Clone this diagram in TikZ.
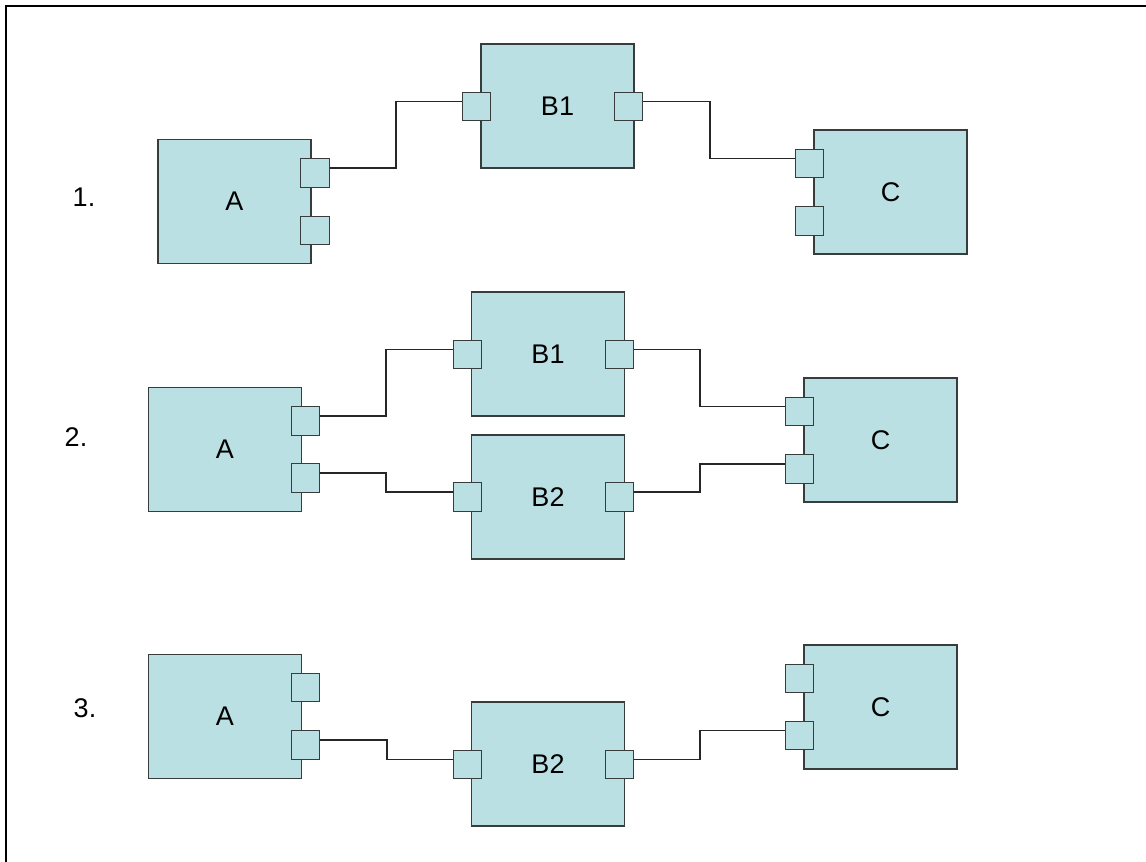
\documentclass[tikz,border=0pt]{standalone}
\usepackage{fontspec}
\setmainfont{Liberation Sans}
\usetikzlibrary{calc}
\definecolor{boxfill}{RGB}{187,224,227}
\definecolor{boxline}{RGB}{55,60,60}
\newcommand\wireconn[3]{%
  \path ([yshift=5pt]#1.east) coordinate (ws) ([yshift=5pt]#2.west) coordinate (we) (#3,0) coordinate (wm);
  \draw[wire] (ws) -- (ws -| wm) -- (wm |- we) -- (we);}
\begin{document}
\begin{tikzpicture}[x=1pt,y=-1pt,
  blk/.style={draw=boxline, fill=boxfill, line width=1.3pt, minimum width=153pt, minimum height=124pt, inner sep=0pt, font=\fontsize{27}{30}\selectfont},
  prt/.style={draw=boxline, fill=boxfill, line width=1.3pt, minimum width=28.5pt, minimum height=28.5pt, inner sep=0pt},
  wire/.style={draw=black!85, line width=1.2pt},
  num/.style={font=\fontsize{27}{30}\selectfont, inner sep=0pt}]
\useasboundingbox (0,0) rectangle (1146,862);
\begin{scope}
  \clip (0,0) rectangle (1146,862);
  \draw[line width=2.2pt] (6,6) rectangle (1170,890);
\end{scope}
% ---------- 1 ----------
\node[num] (n1) at (84,197) {1.};
\node[blk] (A1) at (234.5,201.5) {A};
\node[prt] (A1a) at (315,173) {};
\node[prt] (A1b) at (315,230.5) {};
\node[blk] (B1) at (557.5,106) {B1};
\node[prt] (B1a) at (476.5,106.5) {};
\node[prt] (B1b) at (628.5,106.5) {};
\node[blk] (C1) at (890.5,192) {C};
\node[prt] (C1a) at (809.5,163.5) {};
\node[prt] (C1b) at (809.5,221) {};
\wireconn{A1a}{B1a}{396}
\wireconn{B1b}{C1a}{710}
% ---------- 2 ----------
\node[num] (n2) at (76,437) {2.};
\node[blk] (A2) at (225,449.5) {A};
\node[prt] (A2a) at (305.5,421) {};
\node[prt] (A2b) at (305.5,478) {};
\node[blk] (B21) at (548,354) {B1};
\node[prt] (B21a) at (467.5,354.5) {};
\node[prt] (B21b) at (619.5,354.5) {};
\node[blk] (B22) at (548,497) {B2};
\node[prt] (B22a) at (467.5,497) {};
\node[prt] (B22b) at (619.5,497) {};
\node[blk] (C2) at (880.5,440) {C};
\node[prt] (C2a) at (799.5,411.5) {};
\node[prt] (C2b) at (799.5,469) {};
\wireconn{A2a}{B21a}{386}
\wireconn{A2b}{B22a}{386}
\wireconn{B21b}{C2a}{700}
\wireconn{B22b}{C2b}{700}
% ---------- 3 ----------
\node[num] (n3) at (85,708) {3.};
\node[blk] (A3) at (225,716.5) {A};
\node[prt] (A3a) at (305.5,687.5) {};
\node[prt] (A3b) at (305.5,745) {};
\node[blk] (B3) at (548,764) {B2};
\node[prt] (B3a) at (467.5,764.5) {};
\node[prt] (B3b) at (619.5,764.5) {};
\node[blk] (C3) at (880.5,707) {C};
\node[prt] (C3a) at (799.5,678.5) {};
\node[prt] (C3b) at (799.5,735.5) {};
\wireconn{A3b}{B3a}{387}
\wireconn{B3b}{C3b}{700}
\end{tikzpicture}
\end{document}
